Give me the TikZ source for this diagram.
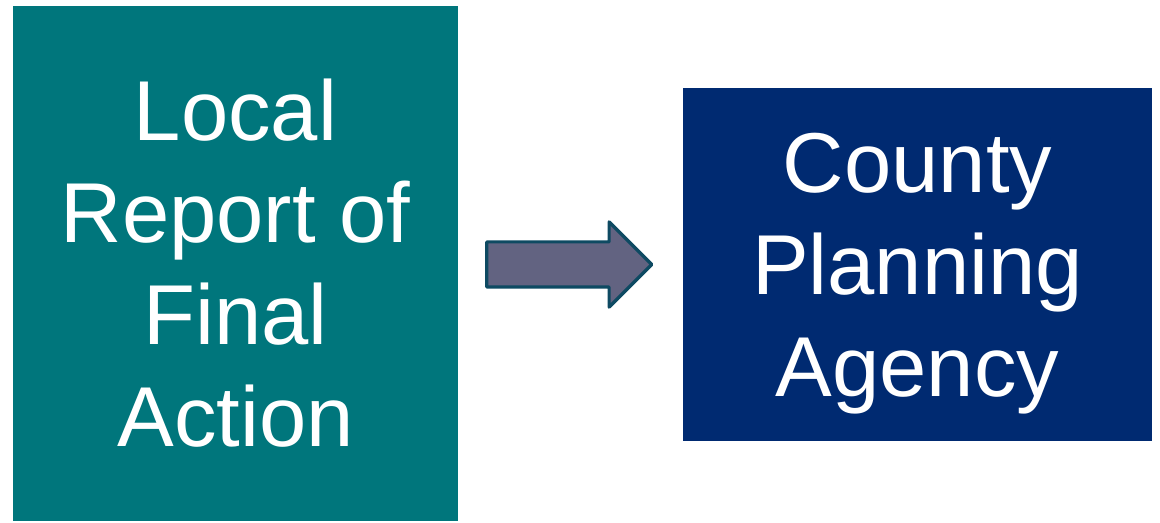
\documentclass[tikz,border=0pt]{standalone}
\usepackage{fontspec}
\setmainfont{Liberation Sans}
\usetikzlibrary{shapes.arrows}

\definecolor{localteal}{RGB}{0,118,124}
\definecolor{countynavy}{RGB}{0,42,113}
\definecolor{flowfill}{RGB}{98,99,129}
\definecolor{flowedge}{RGB}{14,74,98}

\begin{document}
\begin{tikzpicture}[x=0.5pt, y=-0.5pt, every node/.style={text=white,align=center,inner sep=0pt,font=\fontsize{42.5}{51}\selectfont}]
    \useasboundingbox (0,0) rectangle (1160,523);

    %––––– left box –––––
    \node (local) at (235.5,263.5) [fill=localteal,minimum width=222.5pt,minimum height=257.5pt] {Local\\Report of\\Final\\Action};

    %––––– right box –––––
    \node (county) at (917.5,264.5) [fill=countynavy,minimum width=234.5pt,minimum height=176.5pt,text depth=0pt] {County\\Planning\\Agency};

    %––––– block arrow –––––
    \node (flow)
      at
      (654,264.5)
      [anchor=tip, single arrow, draw=flowedge, line width=1.6pt, line join=round, fill=flowfill, minimum height=82.5pt, minimum width=41.5pt, inner ysep=10.5pt, single arrow head extend=10pt, single arrow tip angle=90]
      {};
  \end{tikzpicture}
\end{document}
